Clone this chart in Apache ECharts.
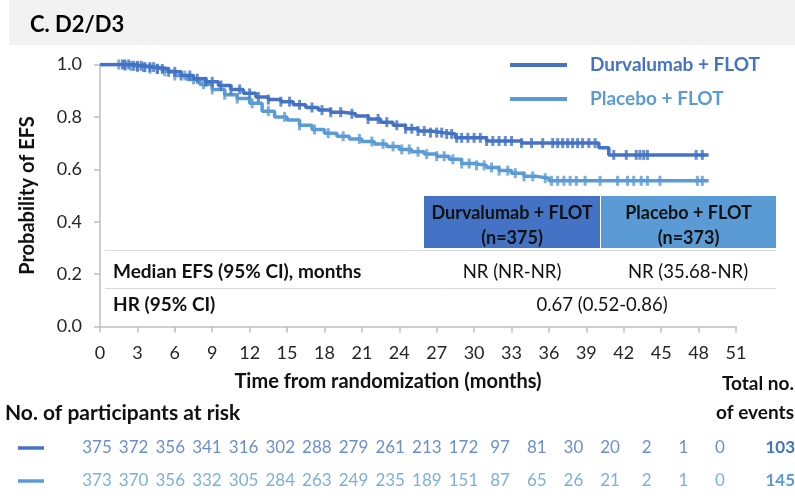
<!DOCTYPE html>
<html>
<head>
<meta charset="utf-8">
<script src="https://cdn.jsdelivr.net/npm/echarts@6/dist/echarts.min.js"></script>
<style>
  html, body { margin: 0; padding: 0; background: #fff; }
  #chart { width: 795px; height: 498px; }
</style>
</head>
<body>
<div id="chart"></div>
<script>
// Kaplan–Meier event-free survival, D2/D3 subgroup
const DURVA_NAME = 'Durvalumab + FLOT';
const PLACEBO_NAME = 'Placebo + FLOT';
const DURVA_COLOR = '#4472C4';
const PLACEBO_COLOR = '#5B9BD5';

// [months, probability of EFS] step points
const durvaCurve = [
  [0, 1.0], [1.5, 1.0], [2.5, 0.995], [3.5, 0.99], [4.5, 0.983], [5.5, 0.972],
  [6.5, 0.958], [7.5, 0.946], [8.5, 0.934], [9.5, 0.92], [10.5, 0.905],
  [11.5, 0.89], [12.5, 0.876], [13.5, 0.866], [14.5, 0.858], [15.5, 0.846],
  [16.5, 0.836], [17.5, 0.826], [18.5, 0.818], [19.5, 0.812], [20.5, 0.803],
  [21.5, 0.792], [22.5, 0.78], [23.5, 0.768], [24.5, 0.755], [25.5, 0.746],
  [26.5, 0.74], [27.5, 0.735], [28.5, 0.72], [31.0, 0.708], [33.8, 0.70],
  [40.0, 0.682], [40.8, 0.655], [48.8, 0.655]
];
const placeboCurve = [
  [0, 1.0], [2, 0.995], [3, 0.99], [4, 0.984], [5, 0.974], [6, 0.958],
  [7, 0.943], [8, 0.925], [9, 0.905], [10, 0.885], [11, 0.87], [12, 0.852],
  [13, 0.822], [14, 0.80], [15, 0.788], [16, 0.768], [17, 0.752], [18, 0.738],
  [19, 0.726], [20, 0.716], [21, 0.706], [22, 0.697], [23, 0.687], [24, 0.676],
  [25, 0.667], [26, 0.658], [27, 0.65], [28, 0.638], [29, 0.622], [30, 0.615],
  [31, 0.607], [32, 0.595], [33, 0.585], [34, 0.573], [35, 0.566], [36, 0.556],
  [48.8, 0.556]
];

// censoring times (months)
const durvaCensored = [
  1.8, 2.0, 2.3, 2.7, 3.0, 3.3, 3.6, 4.0, 4.3, 4.6, 5.0, 5.5, 6.0, 6.5, 7.2, 7.8,
  8.5, 9.0, 9.7, 10.5, 11.2, 12.0, 12.7, 13.5, 14.5, 15.2, 16.0, 17.0, 17.8,
  18.5, 19.3, 20.2, 21.5, 22.3, 23.0, 23.8, 24.5, 25.0, 25.5, 26.0, 26.5, 27.0,
  27.4, 27.8, 28.2, 28.6, 29.0, 29.5, 30.0, 30.5, 31.0, 31.5, 32.0, 32.5, 33.0,
  33.8, 34.6, 35.5, 36.3, 36.7, 37.1, 37.5, 37.9, 38.3, 38.7, 39.2, 39.7, 41.2,
  42.2, 43.0, 43.3, 43.6, 43.9, 47.8, 48.3
];
const placeboCensored = [
  1.5, 2.0, 2.5, 3.0, 3.5, 4.0, 4.6, 5.2, 6.0, 6.8, 7.5, 8.3, 9.0, 10.0, 11.0,
  12.2, 13.5, 14.8, 16.0, 17.2, 18.3, 19.5, 20.8, 21.8, 22.7, 23.5, 24.2, 24.8,
  25.5, 26.2, 27.0, 27.6, 28.3, 29.0, 29.6, 30.2, 30.8, 31.4, 32.0, 32.7, 33.3,
  34.0, 34.7, 35.7, 36.2, 36.7, 37.2, 37.7, 38.2, 38.9, 40.1, 41.5, 42.3, 42.8,
  43.4, 43.9, 44.9, 47.9, 48.3
];

// x-axis ticks and numbers at risk at each tick
const monthTicks = [0, 3, 6, 9, 12, 15, 18, 21, 24, 27, 30, 33, 36, 39, 42, 45, 48, 51];
const durvaAtRisk = [375, 372, 356, 341, 316, 302, 288, 279, 261, 213, 172, 97, 81, 30, 20, 2, 1, 0];
const placeboAtRisk = [373, 370, 356, 332, 305, 284, 263, 249, 235, 189, 151, 87, 65, 26, 21, 2, 1, 0];
const durvaEvents = 103;
const placeboEvents = 145;

// summary table
const durvaN = 375;
const placeboN = 373;
const durvaMedian = 'NR (NR-NR)';
const placeboMedian = 'NR (35.68-NR)';
const hazardRatio = '0.67 (0.52-0.86)';

const FONT = 'Lato, "Open Sans", sans-serif';
const TEXT = '#262626';

// value of the step curve at time t
function survivalAt(curve, t) {
  let s = curve[0][1];
  for (const [x, y] of curve) { if (x <= t) s = y; else break; }
  return s;
}
const censorPoints = (curve, times) => times.map(t => [t, survivalAt(curve, t)]);

const rowNames = ['durva', 'placebo'];
const atRiskPoints = (row, counts) => counts.map((n, i) => [monthTicks[i], row, n]);

const chart = echarts.init(document.getElementById('chart'), null, { renderer: 'canvas' });

const header = (x, w, color, line1, line2) => ({
  type: 'group', children: [
    { type: 'rect', shape: { x: x, y: 196, width: w, height: 52 }, style: { fill: color } },
    { type: 'text', x: x + w / 2, y: 213, style: { text: line1, font: 'bold 18px ' + FONT, fill: '#111', align: 'center', verticalAlign: 'middle' } },
    { type: 'text', x: x + w / 2, y: 238, style: { text: line2, font: 'bold 18px ' + FONT, fill: '#111', align: 'center', verticalAlign: 'middle' } }
  ]
});

chart.setOption({
  animation: false,
  textStyle: { fontFamily: FONT },
  grid: [
    { left: 100, right: 59, top: 64.5, bottom: 171.5 },
    { left: 97, right: 75, top: 431.5, height: 66 }
  ],
  xAxis: [
    {
      type: 'value', gridIndex: 0, min: 0, max: 51, interval: 3,
      axisLine: { lineStyle: { color: '#BFBFBF', width: 1.5 } },
      axisTick: { show: true, length: 6, lineStyle: { color: '#BFBFBF', width: 1.5 } },
      axisLabel: { color: TEXT, fontSize: 18, margin: 18, fontFamily: FONT },
      splitLine: { show: false }
    },
    { type: 'value', gridIndex: 1, min: 0, max: 51, show: false }
  ],
  yAxis: [
    {
      type: 'value', gridIndex: 0, min: 0, max: 1, interval: 0.2,
      name: 'Probability of EFS', nameLocation: 'middle', nameGap: 62, nameRotate: 90,
      nameTextStyle: { color: '#111', fontWeight: 'bold', fontSize: 20, fontFamily: FONT },
      axisLine: { show: true, lineStyle: { color: '#BFBFBF', width: 1.5 } },
      axisTick: { show: true, length: 6, lineStyle: { color: '#BFBFBF', width: 1.5 } },
      axisLabel: { color: TEXT, fontSize: 18, margin: 18, fontFamily: FONT, formatter: v => v.toFixed(1) },
      splitLine: { show: false }
    },
    { type: 'category', gridIndex: 1, data: rowNames, inverse: true, show: false }
  ],
  legend: {
    orient: 'vertical', left: 510, top: 54, itemGap: 12, padding: 0,
    icon: 'rect', itemWidth: 57, itemHeight: 4,
    textStyle: { fontSize: 19, fontWeight: 'bold', fontFamily: FONT, lineHeight: 22, padding: [0, 0, 0, 18] },
    data: [
      { name: DURVA_NAME, textStyle: { color: DURVA_COLOR } },
      { name: PLACEBO_NAME, textStyle: { color: PLACEBO_COLOR } }
    ]
  },
  series: [
    {
      name: PLACEBO_NAME, type: 'line', step: 'end', data: placeboCurve,
      showSymbol: false, color: PLACEBO_COLOR, lineStyle: { width: 3.5 }, z: 3
    },
    {
      name: DURVA_NAME, type: 'line', step: 'end', data: durvaCurve,
      showSymbol: false, color: DURVA_COLOR, lineStyle: { width: 3.5 }, z: 4
    },
    {
      name: 'placebo-censored', type: 'scatter', data: censorPoints(placeboCurve, placeboCensored),
      symbol: 'rect', symbolSize: [3, 10], itemStyle: { color: PLACEBO_COLOR }, z: 3
    },
    {
      name: 'durva-censored', type: 'scatter', data: censorPoints(durvaCurve, durvaCensored),
      symbol: 'rect', symbolSize: [3, 10], itemStyle: { color: DURVA_COLOR }, z: 4
    },
    {
      name: 'durva-at-risk', type: 'scatter', xAxisIndex: 1, yAxisIndex: 1,
      data: atRiskPoints('durva', durvaAtRisk), symbolSize: 0, silent: true,
      label: { show: true, position: 'inside', formatter: p => p.value[2], color: DURVA_COLOR, fontSize: 17, fontFamily: FONT }
    },
    {
      name: 'placebo-at-risk', type: 'scatter', xAxisIndex: 1, yAxisIndex: 1,
      data: atRiskPoints('placebo', placeboAtRisk), symbolSize: 0, silent: true,
      label: { show: true, position: 'inside', formatter: p => p.value[2], color: PLACEBO_COLOR, fontSize: 17, fontFamily: FONT }
    }
  ],
  graphic: [
    // title band
    { type: 'rect', shape: { x: 9, y: 0, width: 786, height: 45 }, style: { fill: '#F2F2F2' }, z: -1 },
    { type: 'text', x: 30, y: 25, style: { text: 'C. D2/D3', font: 'bold 22px ' + FONT, fill: '#000', verticalAlign: 'middle' } },

    // summary table
    header(424, 176, DURVA_COLOR, DURVA_NAME, '(n=' + durvaN + ')'),
    header(601, 175, PLACEBO_COLOR, PLACEBO_NAME, '(n=' + placeboN + ')'),
    { type: 'line', shape: { x1: 105, y1: 250.5, x2: 776, y2: 250.5 }, style: { stroke: '#D9D9D9', lineWidth: 1 } },
    { type: 'line', shape: { x1: 105, y1: 288.5, x2: 776, y2: 288.5 }, style: { stroke: '#D9D9D9', lineWidth: 1 } },
    { type: 'text', x: 113, y: 272, style: { text: 'Median EFS (95% CI), months', font: 'bold 19px ' + FONT, fill: '#111', verticalAlign: 'middle' } },
    { type: 'text', x: 512, y: 272, style: { text: durvaMedian, font: '18.5px ' + FONT, fill: '#111', align: 'center', verticalAlign: 'middle' } },
    { type: 'text', x: 688, y: 272, style: { text: placeboMedian, font: '18.5px ' + FONT, fill: '#111', align: 'center', verticalAlign: 'middle' } },
    { type: 'text', x: 113, y: 305, style: { text: 'HR (95% CI)', font: 'bold 19px ' + FONT, fill: '#111', verticalAlign: 'middle' } },
    { type: 'text', x: 602, y: 305, style: { text: hazardRatio, font: '18.5px ' + FONT, fill: '#111', align: 'center', verticalAlign: 'middle' } },

    // x-axis title
    { type: 'text', x: 388, y: 382, style: { text: 'Time from randomization (months)', font: 'bold 20px ' + FONT, fill: '#111', align: 'center', verticalAlign: 'middle' } },

    // numbers at risk
    { type: 'text', x: 794, y: 384, style: { text: 'Total no.', font: 'bold 19px ' + FONT, fill: '#111', align: 'right', verticalAlign: 'middle' } },
    { type: 'text', x: 794, y: 413, style: { text: 'of events', font: 'bold 19px ' + FONT, fill: '#111', align: 'right', verticalAlign: 'middle' } },
    { type: 'text', x: 5, y: 413, style: { text: 'No. of participants at risk', font: 'bold 21px ' + FONT, fill: '#111', verticalAlign: 'middle' } },
    { type: 'line', shape: { x1: 18, y1: 448, x2: 44, y2: 448 }, style: { stroke: DURVA_COLOR, lineWidth: 3.5 } },
    { type: 'line', shape: { x1: 18, y1: 481, x2: 44, y2: 481 }, style: { stroke: PLACEBO_COLOR, lineWidth: 3.5 } },
    { type: 'text', x: 795, y: 448, style: { text: String(durvaEvents), font: 'bold 17px ' + FONT, fill: DURVA_COLOR, align: 'right', verticalAlign: 'middle' } },
    { type: 'text', x: 795, y: 481, style: { text: String(placeboEvents), font: 'bold 17px ' + FONT, fill: PLACEBO_COLOR, align: 'right', verticalAlign: 'middle' } }
  ]
});
</script>
</body>
</html>
